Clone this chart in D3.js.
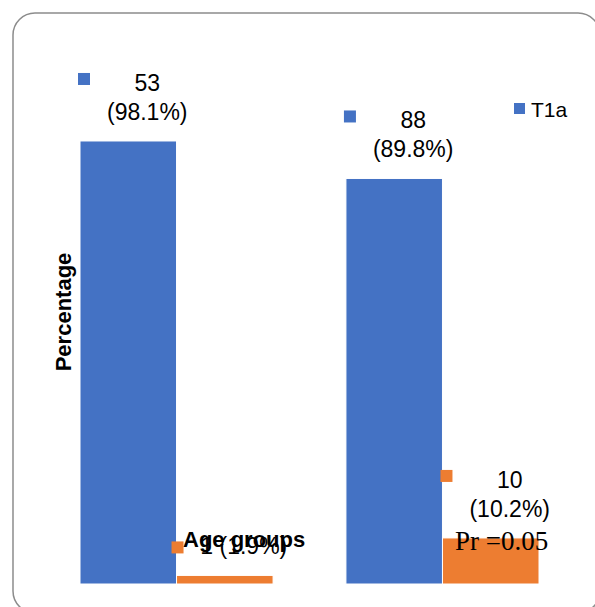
<!DOCTYPE html>
<html>
<head>
<meta charset="utf-8">
<script src="https://cdn.jsdelivr.net/npm/d3@7"></script>
<style>
  html, body { margin: 0; padding: 0; background: #fff; }
  svg { display: block; }
  text { font-family: "Liberation Sans", Arial, sans-serif; }
</style>
</head>
<body>
<svg id="chart" width="595" height="607"></svg>
<script>
const GROUPS = ["Group 1", "Group 2"];
const SERIES = ["T1a", "Other"];
const T1A_COUNT = [53, 88];
const T1A_PCT = [98.1, 89.8];
const OTHER_COUNT = [1, 10];
const OTHER_PCT = [1.9, 10.2];
const LEGEND = ["T1a"];

const COLORS = { T1a: "#4472C4", Other: "#ED7D31" };

// rows for drawing
let data = [];
GROUPS.forEach((g, i) => {
  data.push({ group: g, series: "T1a", count: T1A_COUNT[i], pct: T1A_PCT[i] });
  data.push({ group: g, series: "Other", count: OTHER_COUNT[i], pct: OTHER_PCT[i] });
});

let svg = d3.select("#chart");

// rounded frame
svg.append("rect")
  .attr("x", 13).attr("y", 13)
  .attr("width", 587).attr("height", 600)
  .attr("rx", 22).attr("ry", 22)
  .attr("fill", "none")
  .attr("stroke", "#8c8c8c")
  .attr("stroke-width", 1.5);

// scales
let x0 = d3.scaleBand()
  .domain(GROUPS)
  .range([80, 539])
  .paddingInner(0.274);

let x1 = d3.scaleBand()
  .domain(SERIES)
  .range([0, x0.bandwidth()]);

let y = d3.scaleLinear()
  .domain([0, 100])
  .range([584, 132.4]);

// bars
svg.append("g")
  .selectAll("rect")
  .data(data)
  .join("rect")
  .attr("x", d => x0(d.group) + x1(d.series))
  .attr("y", d => y(d.pct))
  .attr("width", x1.bandwidth())
  .attr("height", d => y(0) - y(d.pct))
  .attr("fill", d => COLORS[d.series])
  .attr("stroke", "#fff")
  .attr("stroke-width", 1);

// data labels with legend key
let labels = svg.append("g");
data.forEach(d => {
  let bx = x0(d.group) + x1(d.series);
  let cx = bx + x1.bandwidth() / 2 + 19;
  let top = y(d.pct);
  let small = d.pct < 5;
  let lab = labels.append("g");
  if (small) {
    let base = top - 21;
    lab.append("rect")
      .attr("x", bx - 5).attr("y", base - 13)
      .attr("width", 12).attr("height", 12)
      .attr("fill", COLORS[d.series]);
    lab.append("text")
      .attr("x", cx).attr("y", base)
      .attr("text-anchor", "middle")
      .attr("font-size", 23)
      .attr("fill", "#000")
      .text(`${d.count} (${d.pct}%)`);
  } else {
    let base1 = top - 50;
    let base2 = top - 21;
    lab.append("rect")
      .attr("x", bx - 2).attr("y", base1 - 18)
      .attr("width", 12).attr("height", 12)
      .attr("fill", COLORS[d.series]);
    lab.append("text")
      .attr("x", cx).attr("y", base1)
      .attr("text-anchor", "middle")
      .attr("font-size", 23)
      .text(d.count);
    lab.append("text")
      .attr("x", cx).attr("y", base2)
      .attr("text-anchor", "middle")
      .attr("font-size", 23)
      .text(`(${d.pct}%)`);
  }
});

// legend
let legend = svg.append("g");
LEGEND.forEach((s, i) => {
  legend.append("rect")
    .attr("x", 514).attr("y", 103 + i * 24)
    .attr("width", 11).attr("height", 11)
    .attr("fill", COLORS[s]);
  legend.append("text")
    .attr("x", 531).attr("y", 117 + i * 24)
    .attr("font-size", 21)
    .text(s);
});

// axis titles and note
svg.append("text")
  .attr("transform", "translate(71,312) rotate(-90)")
  .attr("text-anchor", "middle")
  .attr("font-size", 22)
  .attr("font-weight", "bold")
  .text("Percentage");

svg.append("text")
  .attr("x", 183).attr("y", 547)
  .attr("font-size", 22)
  .attr("font-weight", "bold")
  .text("Age groups");

svg.append("text")
  .attr("x", 455).attr("y", 550)
  .attr("font-size", 27)
  .style("font-family", "'Liberation Serif', 'Times New Roman', serif")
  .text("Pr =0.05");
</script>
</body>
</html>
